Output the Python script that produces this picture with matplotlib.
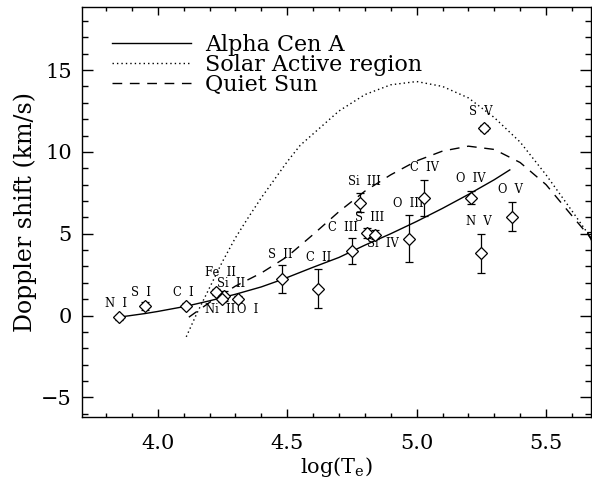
import matplotlib
matplotlib.use("Agg")
import matplotlib.pyplot as plt
from matplotlib.ticker import MultipleLocator, FormatStrFormatter

plt.rcParams['font.family'] = ['DejaVu Serif']
plt.rcParams['mathtext.fontset'] = 'dejavuserif'

# ---- data ----
ions = ["N  I", "S  I", "C  I", "Fe  II", "Si  II", "Ni  II", "O  I", "S  II", "C  II",
        "C  III", "Si  III", "S  III", "Si  IV", "O  III", "C  IV", "O  IV", "N  V", "O  V", "S  V"]
logT = [3.85, 3.95, 4.11, 4.225, 4.255, 4.25, 4.31, 4.48, 4.62,
        4.75, 4.78, 4.81, 4.84, 4.97, 5.03, 5.21, 5.25, 5.37, 5.26]
shift = [-0.1, 0.6, 0.6, 1.45, 1.2, 1.0, 1.0, 2.25, 1.65,
         3.95, 6.9, 5.05, 4.95, 4.7, 7.2, 7.2, 3.8, 6.05, 11.45]
shift_err = [0.15, 0.25, 0.15, 0.2, 0.3, 0.2, 0.2, 0.85, 1.2,
             0.8, 0.6, 0.3, 0.3, 1.45, 1.1, 0.4, 1.2, 0.9, 0.2]

# label anchor positions (data coords)
label_x = [3.837, 3.935, 4.097, 4.243, 4.283, 4.24, 4.346, 4.474, 4.62,
           4.717, 4.797, 4.82, 4.871, 4.968, 5.029, 5.21, 5.241, 5.361, 5.248]
label_y = [0.74, 1.43, 1.43, 2.65, 1.96, 0.38, 0.38, 3.75, 3.52,
           5.35, 8.22, 5.98, 4.38, 6.87, 9.04, 8.35, 5.75, 7.68, 12.46]

# Alpha Cen A fit (solid)
acen_x = [3.85, 3.95, 4.00, 4.11, 4.20, 4.30, 4.40, 4.48, 4.60, 4.70, 4.80, 4.90, 5.00, 5.10, 5.20, 5.30, 5.36]
acen_y = [-0.1, 0.12, 0.25, 0.57, 0.9, 1.3, 1.75, 2.2, 2.95, 3.55, 4.3, 5.0, 5.75, 6.55, 7.4, 8.3, 8.9]

# Solar active region (dotted)
ar_x = [4.11, 4.15, 4.20, 4.25, 4.30, 4.35, 4.40, 4.45, 4.50, 4.55, 4.60, 4.70, 4.80, 4.90,
        5.00, 5.10, 5.20, 5.30, 5.40, 5.50, 5.60, 5.68]
ar_y = [-1.3, 0.1, 1.7, 3.3, 4.75, 6.0, 7.2, 8.3, 9.4, 10.4, 11.1, 12.5, 13.5, 14.1,
        14.3, 14.0, 13.3, 12.1, 10.6, 8.6, 6.4, 4.6]

# Quiet Sun (dashed)
qs_x = [4.12, 4.20, 4.30, 4.40, 4.50, 4.60, 4.70, 4.80, 4.90, 5.00, 5.10, 5.20,
        5.30, 5.40, 5.50, 5.60, 5.68]
qs_y = [-0.1, 0.8, 1.8, 2.6, 3.6, 4.95, 6.35, 7.6, 8.6, 9.45, 10.05, 10.35,
        10.15, 9.35, 8.0, 6.1, 4.6]

# upper-limit style point at the right edge
lim_x = [5.68]
lim_y = [4.75]

# ---- plot ----
fig = plt.figure(figsize=(5.92, 4.88), dpi=100)
ax = fig.add_axes([0.138, 0.1455, 0.860, 0.840])

ax.plot(acen_x, acen_y, color='black', lw=1.0, ls='-', label='Alpha Cen A')
ax.plot(ar_x, ar_y, color='black', lw=1.0, ls=(0, (1, 2.2)), label='Solar Active region')
ax.plot(qs_x, qs_y, color='black', lw=1.0, ls=(0, (7, 5.5)), label='Quiet Sun')

ax.errorbar(logT, shift, yerr=shift_err, fmt='D', ms=6, mfc='white', mec='black',
            mew=0.9, ecolor='black', elinewidth=0.9, capsize=2.9, capthick=0.9, zorder=3)
ax.plot(lim_x, lim_y, 'v', ms=8, mfc='none', mec='black', mew=0.9)

for name, lx, ly in zip(ions, label_x, label_y):
    ax.text(lx, ly, name, fontsize=8.3, ha='center', va='center')

ax.set_xlim(3.706, 5.673)
ax.set_ylim(-6.2, 18.85)
ax.xaxis.set_major_locator(MultipleLocator(0.5))
ax.xaxis.set_minor_locator(MultipleLocator(0.1))
ax.yaxis.set_major_locator(MultipleLocator(5))
ax.yaxis.set_minor_locator(MultipleLocator(1))
ax.xaxis.set_major_formatter(FormatStrFormatter('%.1f'))
ax.tick_params(axis='both', which='both', direction='in', top=True, right=True,
               labelsize=15)
ax.tick_params(axis='x', which='major', length=6, width=1, pad=12)
ax.tick_params(axis='x', which='minor', length=3, width=1)
ax.tick_params(axis='y', which='major', length=8, width=1, pad=7)
ax.tick_params(axis='y', which='minor', length=4, width=1)
for s in ax.spines.values():
    s.set_linewidth(1.0)

ax.set_xlabel(r'log(T$_{\rm e}$)', fontsize=15, labelpad=2)
ax.set_ylabel('Doppler shift (km/s)', fontsize=17, labelpad=3)

leg = ax.legend(loc='upper left', bbox_to_anchor=(0.059, 0.935), frameon=False,
                fontsize=16, handlelength=3.56, handletextpad=0.63,
                labelspacing=-0.08, borderpad=0, borderaxespad=0)

fig.savefig('out.png', dpi=100)
